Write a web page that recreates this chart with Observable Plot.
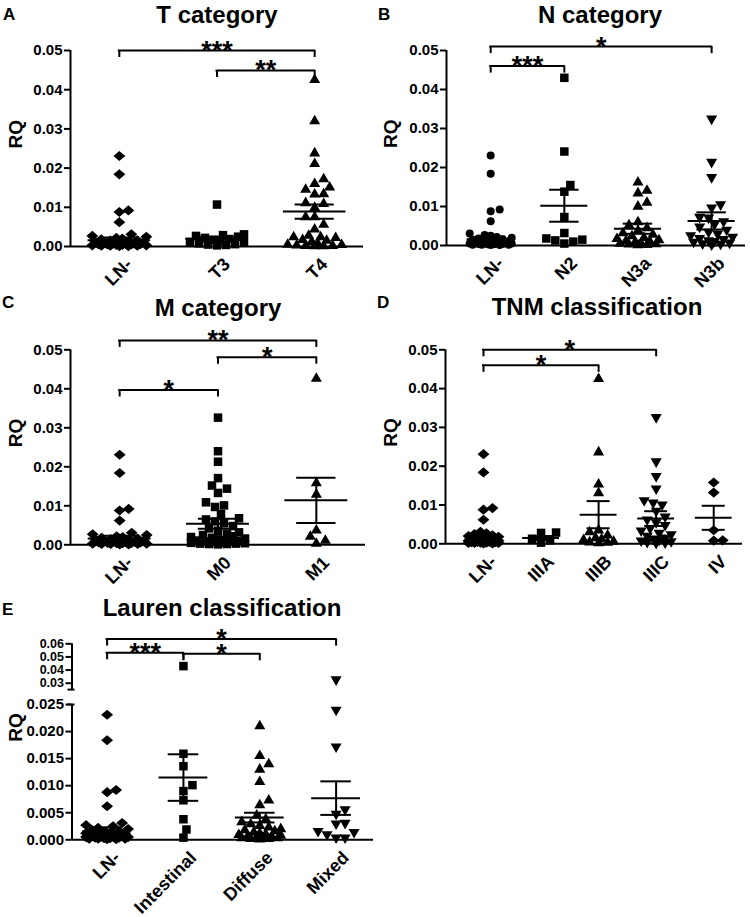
<!DOCTYPE html>
<html>
<head>
<meta charset="utf-8">
<script src="https://cdn.jsdelivr.net/npm/d3@7"></script>
<script src="https://cdn.jsdelivr.net/npm/@observablehq/plot@0.6"></script>
<style>
  body { margin: 0; background: #fff; }
  #fig { position: relative; width: 750px; height: 917px; overflow: hidden; background: #fff;
         font-family: "Liberation Sans", Arial, Helvetica, sans-serif; color: #000; }
  .panel { position: absolute; }
  .letter { position: absolute; font-weight: bold; font-size: 17px; line-height: 17px; }
  .title { position: absolute; font-weight: bold; font-size: 24px; line-height: 24px;
           transform: translateX(-50%); white-space: nowrap; }
</style>
</head>
<body>
<div id="fig"></div>
<script>
const FONT = '"Liberation Sans", Arial, Helvetica, sans-serif';

// ---------- shared control group (LN-) ----------
const lnNeg = [0.0231, 0.0184, 0.0092, 0.0088, 0.0062, 0.0031, 0.0027, 0.0025, 0.0022, 0.0020,
  0.0018, 0.0016, 0.0015, 0.0013, 0.0012, 0.0011, 0.0010, 0.0009, 0.0008, 0.0008,
  0.0007, 0.0006, 0.0006, 0.0005, 0.0005, 0.0004, 0.0004, 0.0003, 0.0003, 0.0002,
  0.0002, 0.0002, 0.0001, 0.0001];

// ---------- A: T category ----------
const catsA = ["LN-", "T3", "T4"];
const t3 = [0.0107, 0.0031, 0.0029, 0.0027, 0.0025, 0.0022, 0.0019, 0.0017, 0.0015, 0.0012,
  0.0010, 0.0008, 0.0006, 0.0005, 0.0004, 0.0003];
const t4 = [0.0425, 0.0320, 0.0238, 0.0211, 0.0172, 0.0160, 0.0151, 0.0145, 0.0134, 0.0133,
  0.0111, 0.0109, 0.0099, 0.0075, 0.0075, 0.0056, 0.0044, 0.0028, 0.0024, 0.0024,
  0.0022, 0.0017, 0.0015, 0.0012, 0.0008, 0.0005, 0.0004, 0.0003, 0.0002, 0.0002,
  0.0001, 0.0001];
const meanA = [0.0016, 0.0019, 0.0089];
const semA = [0.0007, 0.0006, 0.0018];
const bracketsA = [["LN-", "T4", 0.0500, "***"], ["T3", "T4", 0.0449, "**"]];

// ---------- B: N category ----------
const catsB = ["LN-", "N2", "N3a", "N3b"];
const n2 = [0.0430, 0.0241, 0.0155, 0.0138, 0.0073, 0.0032, 0.0018, 0.0015, 0.0013, 0.0010, 0.0005];
const n3a = [0.0162, 0.0141, 0.0134, 0.0110, 0.0100, 0.0060, 0.0052, 0.0045, 0.0038, 0.0032,
  0.0028, 0.0024, 0.0020, 0.0017, 0.0014, 0.0012, 0.0010, 0.0008, 0.0006, 0.0005,
  0.0004, 0.0003, 0.0002, 0.0001];
const n3b = [0.0325, 0.0214, 0.0175, 0.0105, 0.0097, 0.0073, 0.0071, 0.0062, 0.0055, 0.0048,
  0.0040, 0.0035, 0.0030, 0.0026, 0.0022, 0.0019, 0.0016, 0.0013, 0.0011, 0.0009,
  0.0007, 0.0005, 0.0004, 0.0002];
const meanB = [0.0016, 0.0102, 0.0043, 0.0063];
const semB = [0.0007, 0.0041, 0.0013, 0.0022];
const bracketsB = [["LN-", "N3b", 0.0510, "*"], ["LN-", "N2", 0.0460, "***"]];

// ---------- C: M category ----------
const catsC = ["LN-", "M0", "M1"];
const m0 = [0.0326, 0.0240, 0.0213, 0.0171, 0.0152, 0.0144, 0.0133, 0.0109, 0.0101, 0.0097,
  0.0079, 0.0068, 0.0065, 0.0060, 0.0055, 0.0048, 0.0042, 0.0036, 0.0032, 0.0028,
  0.0025, 0.0022, 0.0020, 0.0018, 0.0016, 0.0014, 0.0012, 0.0011, 0.0010, 0.0009,
  0.0008, 0.0007, 0.0006, 0.0005, 0.0004, 0.0003, 0.0003, 0.0002, 0.0002, 0.0001];
const m1 = [0.0426, 0.0158, 0.0129, 0.0037, 0.0021, 0.0011, 0.0003];
const meanC = [0.0016, 0.0054, 0.0114];
const semC = [0.0007, 0.0013, 0.0058];
const bracketsC = [["LN-", "M1", 0.0524, "**"], ["M0", "M1", 0.0481, "*"], ["LN-", "M0", 0.0397, "*"]];

// ---------- D: TNM classification ----------
const catsD = ["LN-", "IIIA", "IIIB", "IIIC", "IV"];
const iiia = [0.0029, 0.0028, 0.0013, 0.0009, 0.0003];
const iiib = [0.0425, 0.0236, 0.0153, 0.0131, 0.0035, 0.0030, 0.0022, 0.0015, 0.0012, 0.0010,
  0.0006, 0.0004, 0.0003, 0.0002];
const iiic = [0.0326, 0.0212, 0.0174, 0.0142, 0.0112, 0.0106, 0.0101, 0.0085, 0.0070, 0.0062,
  0.0055, 0.0048, 0.0040, 0.0034, 0.0028, 0.0024, 0.0020, 0.0016, 0.0013, 0.0010,
  0.0008, 0.0006, 0.0004, 0.0003, 0.0002];
const stageIV = [0.0158, 0.0132, 0.0035, 0.0009, 0.0008];
const meanD = [0.0016, 0.0015, 0.0075, 0.0065, 0.0067];
const semD = [0.0007, 0.0005, 0.0035, 0.0019, 0.0031];
const bracketsD = [["LN-", "IIIC", 0.0500, "*"], ["LN-", "IIIB", 0.0460, "*"]];

// ---------- E: Lauren classification ----------
const catsE = ["LN-", "Intestinal", "Diffuse", "Mixed"];
const intestinal = [0.0430, 0.0159, 0.0136, 0.0101, 0.0090, 0.0073, 0.0038, 0.0019, 0.0004];
const diffuse = [0.0210, 0.0155, 0.0140, 0.0130, 0.0107, 0.0073, 0.0064, 0.0045, 0.0038, 0.0033,
  0.0029, 0.0026, 0.0023, 0.0020, 0.0018, 0.0016, 0.0014, 0.0012, 0.0010, 0.0009,
  0.0008, 0.0007, 0.0006, 0.0005, 0.0004, 0.0003, 0.0003, 0.0002, 0.0002, 0.0001];
const mixed = [0.0328, 0.0240, 0.0172, 0.0056, 0.0048, 0.0031, 0.0030, 0.0016, 0.0014, 0.0010, 0.0004, 0.0004];
const meanE = [0.0016, 0.0115, 0.0041, 0.0077];
const semE = [0.0007, 0.0043, 0.0009, 0.0031];
const bracketsE = [["LN-", "Mixed", 0.0636, "*"], ["LN-", "Intestinal", 0.0531, "***"], ["Intestinal", "Diffuse", 0.0524, "*"]];

// ---------- tick labels ----------
const yTicks = [0, 0.01, 0.02, 0.03, 0.04, 0.05];
const yTicksELow = [0, 0.005, 0.010, 0.015, 0.020, 0.025];
const yTicksEHigh = [0.03, 0.04, 0.05, 0.06];

// ---------- symbols ----------
const diamondSym = {draw(ctx, size) {
  const h = Math.sqrt(size / 2);
  ctx.moveTo(0, -h * 0.92); ctx.lineTo(h * 1.08, 0); ctx.lineTo(0, h * 0.92); ctx.lineTo(-h * 1.08, 0); ctx.closePath();
}};
const triDownSym = {draw(ctx, size) {
  const y = -Math.sqrt(size / (Math.sqrt(3) * 3));
  ctx.moveTo(0, -y * 2); ctx.lineTo(-Math.sqrt(3) * y, y); ctx.lineTo(Math.sqrt(3) * y, y); ctx.closePath();
}};
const SYM = {
  circle: {symbol: "circle", r: 4},
  square: {symbol: "square", r: 4.8},
  diamond: {symbol: diamondSym, r: 4.4},
  triangle: {symbol: "triangle", r: 4.1},
  triangleDown: {symbol: triDownSym, r: 4.1}
};

// horizontal spread of points (scatter-dot layout), in pixels
function swarm(vals, yPx, halfPx) {
  const cand = [0];
  for (let k = 1; k * 3 <= halfPx; k++) cand.push(k * 3, -k * 3);
  const placed = [], off = new Array(vals.length);
  const order = d3.range(vals.length).sort((a, b) => d3.ascending(vals[a], vals[b]));
  for (const i of order) {
    const y = yPx(vals[i]);
    let best = 0, bestD = -1;
    for (const c of cand) {
      let dmin = Infinity;
      for (const p of placed) dmin = Math.min(dmin, Math.hypot(p[0] - c, p[1] - y));
      if (dmin >= 8.5) { best = c; break; }
      if (dmin > bestD + 0.01) { bestD = dmin; best = c; }
    }
    placed.push([best, y]); off[i] = best;
  }
  return off;
}

function makePanel(p) {
  const W = 375, H = p.height;
  const mL = p.axisX - p.left, mR = p.left + W - p.rightX;
  const yR = p.yRange.map(v => v - p.top);
  const mT = Math.min(...yR), mB = H - Math.max(...yR);
  const xmin = p.xDomain[0];
  const stepPx = (W - mL - mR) / (p.xDomain[1] - p.xDomain[0]);
  const yPx = d3.scaleLinear(p.yDomain, yR);
  const idx = c => p.cats.indexOf(c);
  const marks = [];

  // axes
  marks.push(Plot.ruleY([0], {strokeWidth: 2}));
  marks.push(Plot.ruleX(p.axisPieces, {x: xmin, y1: d => d[0], y2: d => d[1], strokeWidth: 2}));
  if (p.breaks) marks.push(Plot.ruleY(p.breaks, {x1: xmin, x2: xmin, y: d => d, insetLeft: -4, insetRight: -3, strokeWidth: 2}));
  for (const t of p.tickSets) {
    marks.push(Plot.axisY({ticks: t.ticks, tickFormat: t.format, tickSize: 6, tickPadding: 2,
      fontSize: t.size, fontWeight: "bold", strokeWidth: 2, label: null}));
  }
  marks.push(Plot.text(["RQ"], {frameAnchor: "left", text: d => d, rotate: -90, dx: -(mL - 15),
    fontSize: 19, fontWeight: "bold"}));
  marks.push(Plot.text(p.cats, {x: (d, i) => i, text: d => d, frameAnchor: "bottom", rotate: -45,
    textAnchor: "end", lineAnchor: "top", dx: 5, dy: 10, fontSize: 18, fontWeight: "bold"}));

  // points
  p.groups.forEach((vals, i) => {
    const off = swarm(vals, yPx, 0.3 * stepPx);
    const rows = vals.map((v, j) => ({x: i + off[j] / stepPx, y: v}));
    const s = SYM[p.shapes[i]];
    marks.push(Plot.dot(rows, {x: "x", y: "y", symbol: s.symbol, r: s.r, fill: "black", stroke: "none"}));
  });

  // mean +/- SEM
  const stats = p.cats.map((c, i) => ({i, mean: p.means[i], sem: p.sems[i]}));
  marks.push(Plot.ruleY(stats, {x1: d => d.i - 0.32, x2: d => d.i + 0.32, y: "mean", strokeWidth: 2}));
  marks.push(Plot.ruleX(stats, {x: "i", y1: d => d.mean - d.sem, y2: d => d.mean + d.sem, strokeWidth: 2}));
  marks.push(Plot.ruleY(stats.flatMap(d => [{i: d.i, y: d.mean - d.sem}, {i: d.i, y: d.mean + d.sem}]),
    {x1: d => d.i - 0.2, x2: d => d.i + 0.2, y: "y", strokeWidth: 2}));

  // significance brackets
  const br = p.brackets.map(([a, b, y, lab]) => ({x1: idx(a), x2: idx(b), y, lab}));
  marks.push(Plot.ruleY(br, {x1: "x1", x2: "x2", y: "y", strokeWidth: 2, strokeLinecap: "square"}));
  marks.push(Plot.ruleX(br.flatMap(d => [{x: d.x1, y: d.y}, {x: d.x2, y: d.y}]),
    {x: "x", y1: "y", y2: "y", insetBottom: -7, strokeWidth: 2}));
  marks.push(Plot.text(br, {x: d => (d.x1 + d.x2) / 2, y: "y", text: "lab", fontSize: 27, fontWeight: "bold",
    lineAnchor: "bottom", dy: 9}));

  const svg = Plot.plot({
    width: W, height: H, marginLeft: mL, marginRight: mR, marginTop: mT, marginBottom: mB,
    x: {type: "linear", domain: p.xDomain, axis: null},
    y: {type: "linear", domain: p.yDomain, range: yR, label: null},
    style: {background: "none", color: "black", fontFamily: FONT, overflow: "visible"},
    marks
  });
  const div = document.createElement("div");
  div.className = "panel";
  div.style.left = p.left + "px";
  div.style.top = p.top + "px";
  div.appendChild(svg);
  return div;
}

const fmt2 = d3.format(".2f");
const fmt3 = d3.format(".3f");
const fig = document.getElementById("fig");
const std = [{ticks: yTicks, format: fmt2, size: 15}];

const panels = [
  {cats: catsA, groups: [lnNeg, t3, t4], means: meanA, sems: semA, brackets: bracketsA,
   shapes: ["diamond", "square", "triangle"],
   left: 0, top: 0, height: 300, axisX: 70, rightX: 363, xDomain: [-0.5, 2.5],
   yDomain: [0, 0.05], yRange: [246, 50], tickSets: std, axisPieces: [[0, 0.05]]},
  {cats: catsB, groups: [lnNeg, n2, n3a, n3b], means: meanB, sems: semB, brackets: bracketsB,
   shapes: ["circle", "square", "triangle", "triangleDown"],
   left: 375, top: 0, height: 300, axisX: 446, rightX: 745, xDomain: [-0.6, 3.46],
   yDomain: [0, 0.05], yRange: [245, 50], tickSets: std, axisPieces: [[0, 0.05]]},
  {cats: catsC, groups: [lnNeg, m0, m1], means: meanC, sems: semC, brackets: bracketsC,
   shapes: ["diamond", "square", "triangle"],
   left: 0, top: 300, height: 300, axisX: 70, rightX: 365, xDomain: [-0.5, 2.5],
   yDomain: [0, 0.05], yRange: [544.3, 349.3], tickSets: std, axisPieces: [[0, 0.05]]},
  {cats: catsD, groups: [lnNeg, iiia, iiib, iiic, stageIV], means: meanD, sems: semD, brackets: bracketsD,
   shapes: ["diamond", "square", "triangle", "triangleDown", "diamond"],
   left: 375, top: 300, height: 300, axisX: 445, rightX: 742, xDomain: [-0.66, 4.5],
   yDomain: [0, 0.05], yRange: [543.3, 349.3], tickSets: std, axisPieces: [[0, 0.05]]},
  {cats: catsE, groups: [lnNeg, intestinal, diffuse, mixed], means: meanE, sems: semE, brackets: bracketsE,
   shapes: ["diamond", "square", "triangle", "triangleDown"],
   left: 0, top: 600, height: 317, axisX: 71.5, rightX: 373, xDomain: [-0.46, 3.49],
   yDomain: [0, 0.025, 0.03, 0.06], yRange: [839.3, 704, 682.7, 643.3],
   tickSets: [{ticks: yTicksELow, format: fmt3, size: 15}, {ticks: yTicksEHigh, format: fmt2, size: 12.5}],
   axisPieces: [[0, 0.025], [0.0285, 0.06]], breaks: [0.025, 0.0285]}
];
for (const p of panels) fig.appendChild(makePanel(p));

const letters = [["A", 3, 5.6], ["B", 378, 5.6], ["C", 2, 293.6], ["D", 377, 293.6], ["E", 2, 600.6]];
const titles = [["T category", 217, 3], ["N category", 600, 3], ["M category", 218, 296.4],
  ["TNM classification", 597, 294.7], ["Lauren classification", 222, 596.4]];
for (const [t, x, y] of letters) {
  const d = document.createElement("div"); d.className = "letter"; d.textContent = t;
  d.style.left = x + "px"; d.style.top = y + "px"; fig.appendChild(d);
}
for (const [t, x, y] of titles) {
  const d = document.createElement("div"); d.className = "title"; d.textContent = t;
  d.style.left = x + "px"; d.style.top = y + "px"; fig.appendChild(d);
}
</script>
</body>
</html>
